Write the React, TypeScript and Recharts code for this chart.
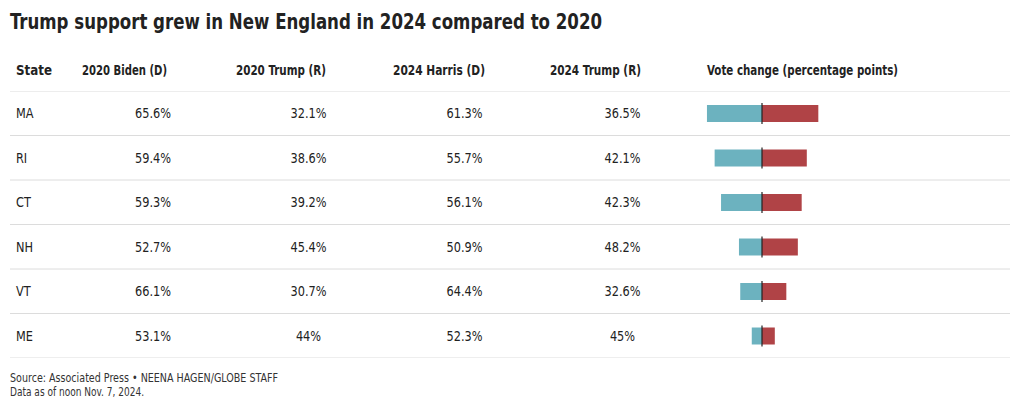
import React from 'react';
import { BarChart, Bar, XAxis, YAxis } from 'recharts';

const states = ['MA', 'RI', 'CT', 'NH', 'VT', 'ME'];
const biden2020 = [65.6, 59.4, 59.3, 52.7, 66.1, 53.1];
const trump2020 = [32.1, 38.6, 39.2, 45.4, 30.7, 44];
const harris2024 = [61.3, 55.7, 56.1, 50.9, 64.4, 52.3];
const trump2024 = [36.5, 42.1, 42.3, 48.2, 32.6, 45];

const headers = ['State', '2020 Biden (D)', '2020 Trump (R)', '2024 Harris (D)', '2024 Trump (R)', 'Vote change (percentage points)'];

const FONT = '"Liberation Sans Narrow", "DejaVu Sans Condensed", "Roboto", sans-serif';
const BLUE = '#6cb2bf';
const RED = '#b04346';
const TEXT = '#222';
const RULE = '#dcdcdc';

const CHART_W = 1000;
const CHART_H = 267;
const ROW_H = CHART_H / states.length;

const rows = states.map((s, i) => ({
  state: s,
  biden: biden2020[i],
  trump20: trump2020[i],
  harris: harris2024[i],
  trump24: trump2024[i],
  demChange: +(harris2024[i] - biden2020[i]).toFixed(1),
  repChange: +(trump2024[i] - trump2020[i]).toFixed(1),
}));

// header left edges / widths and value column centers (page coords)
const headerX = [16, 82, 236, 393, 550, 707];
const headerW = [36, 85, 90, 92, 91, 191];
const valueCenters = [153, 308.5, 464.5, 622.5];
const SQUEEZE = 0.9;

const pct = (v: number) => `${v}%`;

// row text + separators, drawn from the category axis
const RowTick = (props: any) => {
  const { y, payload, index } = props;
  const r = rows.find(d => d.state === payload.value) || rows[index];
  const top = y - ROW_H / 2;
  const vals = [r.biden, r.trump20, r.harris, r.trump24];
  const last = r.state === states[states.length - 1];
  return (
    <g>
      <line x1={0} x2={CHART_W} y1={top} y2={top} stroke={RULE} strokeWidth={1} />
      {last && <line x1={0} x2={CHART_W} y1={top + ROW_H} y2={top + ROW_H} stroke={RULE} strokeWidth={1} />}
      <g transform={`translate(${headerX[0] - 10},${y + 5}) scale(${SQUEEZE},1)`}>
        <text x={0} y={0} fontSize={14} fill={TEXT} fontFamily={FONT}>{r.state}</text>
      </g>
      {vals.map((v, i) => (
        <g key={i} transform={`translate(${valueCenters[i] - 10},${y + 5}) scale(${SQUEEZE},1)`}>
          <text x={0} y={0} fontSize={14} fill={TEXT} fontFamily={FONT} textAnchor="middle">
            {pct(v)}
          </text>
        </g>
      ))}
    </g>
  );
};

const RedBar = (props: any) => {
  const { x, y, width, height } = props;
  return (
    <g>
      <rect x={x} y={y} width={width} height={height} fill={RED} />
      <line x1={x} x2={x} y1={y - 2} y2={y + height + 2} stroke="#222" strokeWidth={1.2} />
    </g>
  );
};

// zero at page x 762, 12.8 px per point
const DOMAIN: [number, number] = [-6, 6];
const PLOT_W = 12 * 12.8;
const PLOT_LEFT = 752 - PLOT_W / 2;

const App: React.FC = () => {
  return (
    <div style={{ position: 'absolute', left: 0, top: 0, width: 1020, height: 411, background: '#fff', overflow: 'hidden' }}>
      <svg width={1020} height={411} style={{ position: 'absolute', left: 0, top: 0 }}>
        <text x={10} y={29} fontSize={21} fontWeight="bold" fill={TEXT} fontFamily={FONT}
          textLength={592} lengthAdjust="spacingAndGlyphs">
          Trump support grew in New England in 2024 compared to 2020
        </text>
        {headers.map((h, i) => (
          <text key={h} x={headerX[i]} y={75} fontSize={14} fontWeight="bold" fill={TEXT} fontFamily={FONT}
            textLength={headerW[i]} lengthAdjust="spacingAndGlyphs">{h}</text>
        ))}
        <text x={10} y={382} fontSize={12} fill="#333" fontFamily={FONT}
          textLength={268} lengthAdjust="spacingAndGlyphs">Source: Associated Press • NEENA HAGEN/GLOBE STAFF</text>
        <text x={10} y={396} fontSize={12} fill="#333" fontFamily={FONT}
          textLength={134} lengthAdjust="spacingAndGlyphs">Data as of noon Nov. 7, 2024.</text>
      </svg>
      <div style={{ position: 'absolute', left: 10, top: 91 }}>
        <BarChart
          width={CHART_W}
          height={CHART_H}
          data={rows}
          layout="vertical"
          stackOffset="sign"
          margin={{ top: 0, right: CHART_W - PLOT_LEFT - PLOT_W, bottom: 0, left: 0 }}
        >
          <XAxis type="number" domain={DOMAIN} hide />
          <YAxis
            type="category"
            dataKey="state"
            width={PLOT_LEFT}
            axisLine={false}
            tickLine={false}
            tick={<RowTick />}
            interval={0}
          />
          <Bar dataKey="demChange" stackId="a" fill={BLUE} barSize={17} isAnimationActive={false} />
          <Bar dataKey="repChange" stackId="a" fill={RED} barSize={17} shape={<RedBar />} isAnimationActive={false} />
        </BarChart>
      </div>
    </div>
  );
};

export default App;
